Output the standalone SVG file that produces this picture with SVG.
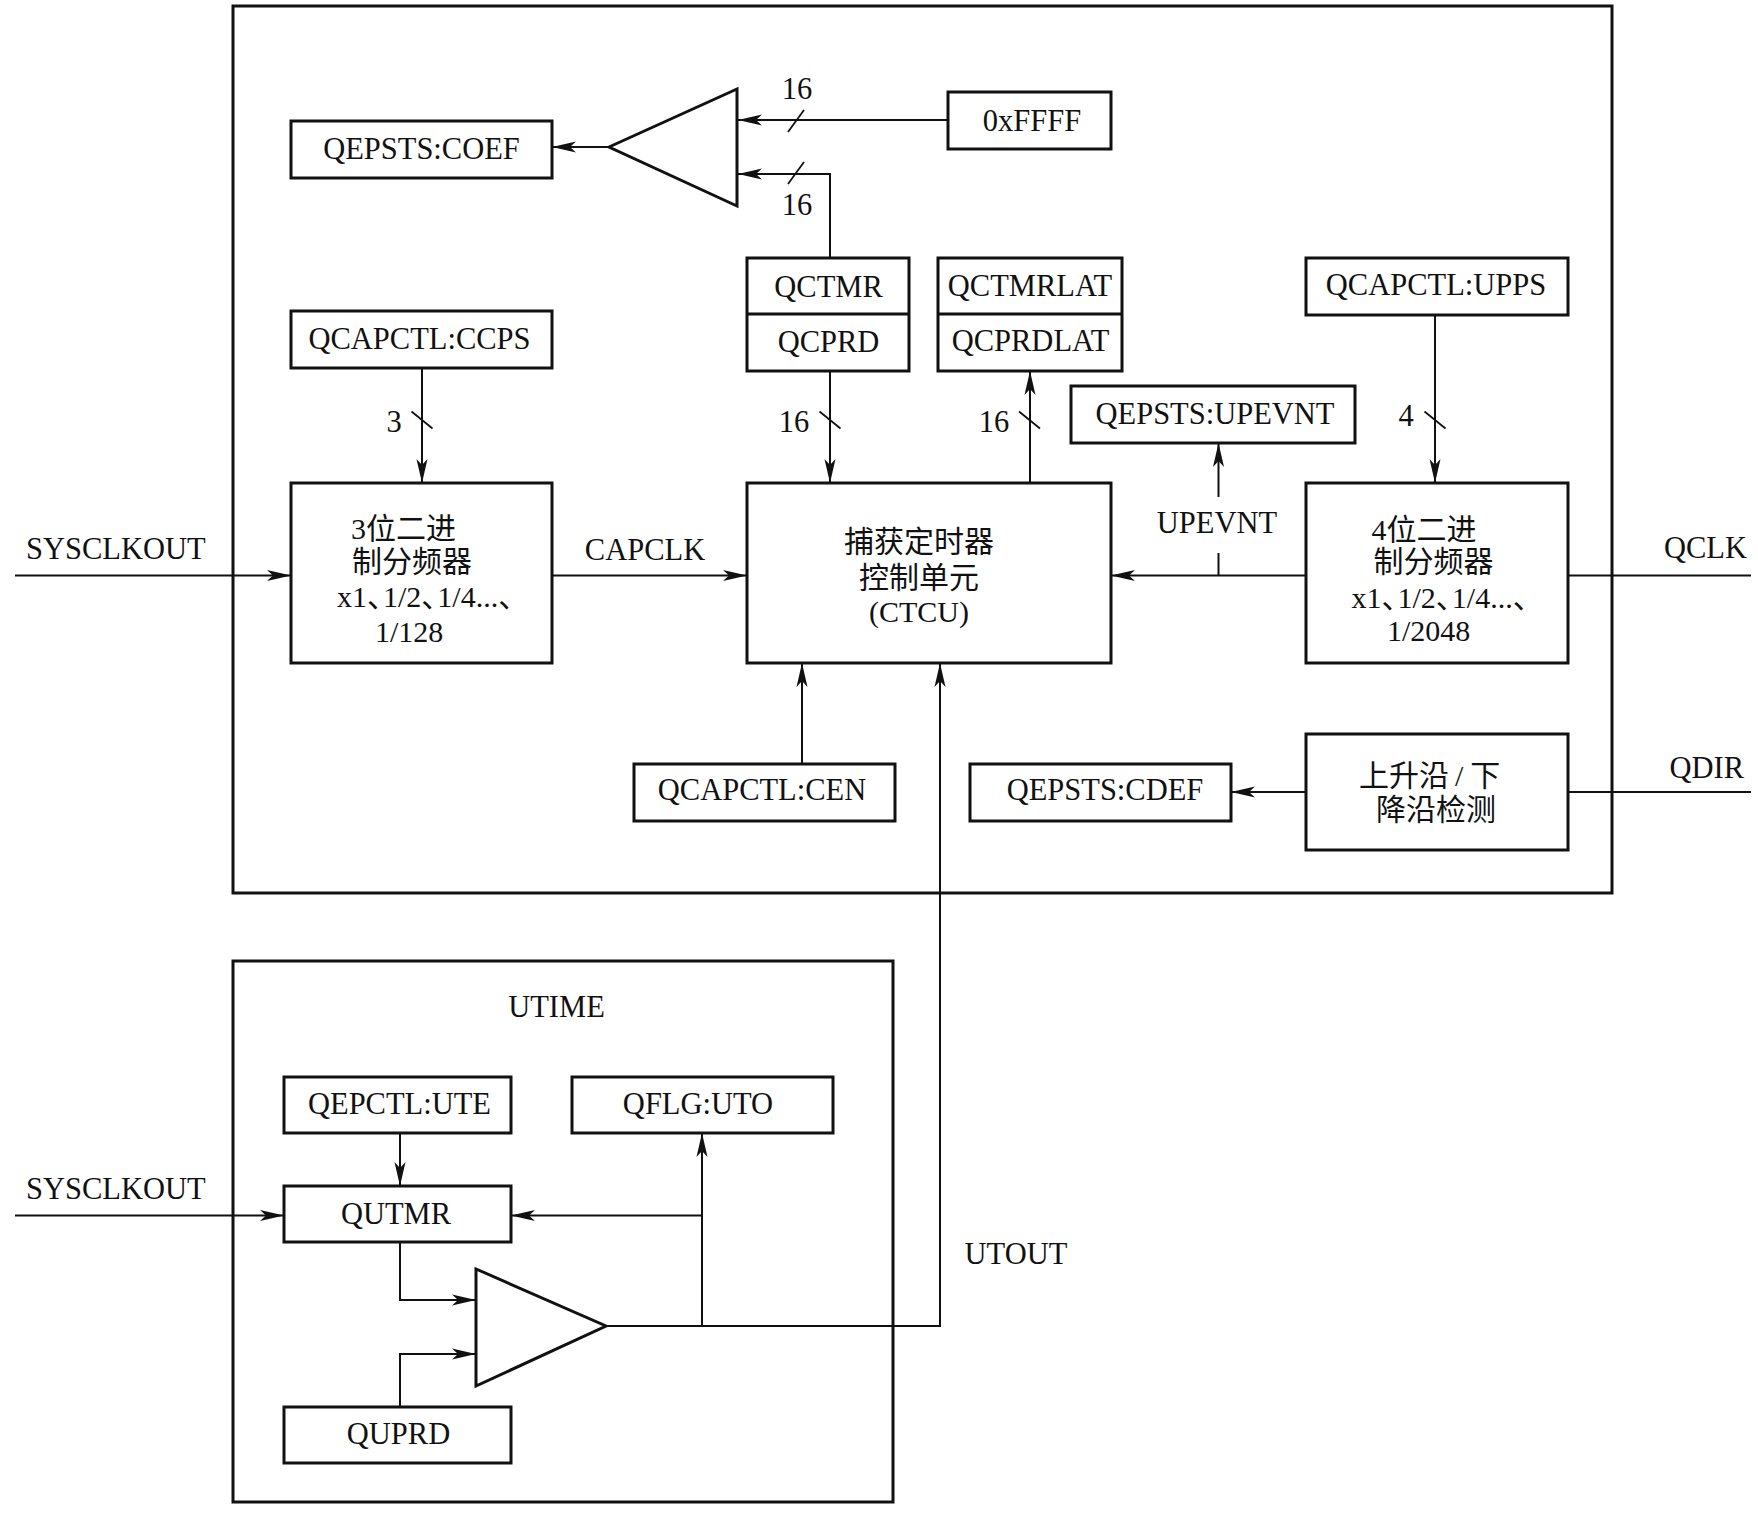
<svg xmlns="http://www.w3.org/2000/svg" width="1758" height="1515" viewBox="0 0 1758 1515">
<style>
  .bg{fill:#fff}
  .box{fill:#fff;stroke:#111;stroke-width:3}
  .frame{fill:none;stroke:#111;stroke-width:3}
  .ln{fill:none;stroke:#111;stroke-width:2}
  .sl{fill:none;stroke:#111;stroke-width:1.8}
  text{font-family:"Liberation Serif","Noto Sans CJK SC",serif;font-size:30.5px;fill:#111}
  .cjk{font-size:30px}
  .m{text-anchor:middle}
  .e{text-anchor:end}
</style>
<defs>
  <marker id="ah" markerUnits="userSpaceOnUse" markerWidth="26" markerHeight="14" refX="24" refY="7" orient="auto">
    <path d="M0,1.5 L24,7 L0,12.5 L6,7 z" fill="#111"/>
  </marker>
</defs>
<rect class="bg" x="0" y="0" width="1758" height="1515"/>

<g id="frame-qcap"><rect class="frame" x="233" y="6" width="1379" height="887"/></g>
<g id="frame-utime"><rect class="frame" x="233" y="961" width="660" height="541"/><text class="m" x="556.5" y="1016.5">UTIME</text></g>

<g id="connectors">
  <path class="ln" d="M609,147 H552" marker-end="url(#ah)"/>
  <path class="ln" d="M948,120 H738" marker-end="url(#ah)"/>
  <path class="ln" d="M830,258 V174 H738" marker-end="url(#ah)"/>
  <path class="ln" d="M422,368 V483" marker-end="url(#ah)"/>
  <path class="ln" d="M830,371 V483" marker-end="url(#ah)"/>
  <path class="ln" d="M1030,483 V371" marker-end="url(#ah)"/>
  <path class="ln" d="M1435,315 V483" marker-end="url(#ah)"/>
  <path class="ln" d="M15,575.5 H291" marker-end="url(#ah)"/>
  <path class="ln" d="M552,575.5 H747" marker-end="url(#ah)"/>
  <path class="ln" d="M1306,575.5 H1111" marker-end="url(#ah)"/>
  <path class="ln" d="M1218.5,575.5 V553"/>
  <path class="ln" d="M1218.5,497 V443" marker-end="url(#ah)"/>
  <path class="ln" d="M1568,575.5 H1751"/>
  <path class="ln" d="M802,764 V663" marker-end="url(#ah)"/>
  <path class="ln" d="M1306,792 H1231" marker-end="url(#ah)"/>
  <path class="ln" d="M1568,792 H1751"/>
  <path class="ln" d="M15,1215.5 H284" marker-end="url(#ah)"/>
  <path class="ln" d="M400,1133 V1186" marker-end="url(#ah)"/>
  <path class="ln" d="M400,1242 V1300 H476" marker-end="url(#ah)"/>
  <path class="ln" d="M400,1407 V1354 H476" marker-end="url(#ah)"/>
  <path class="ln" d="M606,1326 H940 V663" marker-end="url(#ah)"/>
  <path class="ln" d="M702,1326 V1133" marker-end="url(#ah)"/>
  <path class="ln" d="M702,1215.5 H511" marker-end="url(#ah)"/>
  <path class="sl" d="M788,132 L804,110"/>
  <path class="sl" d="M788,184 L804,162"/>
  <path class="sl" d="M411.5,411.5 L432.5,428.5"/>
  <path class="sl" d="M819.5,411.5 L840.5,428.5"/>
  <path class="sl" d="M1019,411.5 L1040,428.5"/>
  <path class="sl" d="M1424.5,411.5 L1445.5,428.5"/>
  <text class="m" x="797" y="98.5">16</text>
  <text class="m" x="797" y="215">16</text>
  <text class="m" x="394" y="431.5">3</text>
  <text class="m" x="794" y="432">16</text>
  <text class="m" x="994" y="431.5">16</text>
  <text class="m" x="1406" y="425.5">4</text>
  <text class="m" x="645" y="559.5">CAPCLK</text>
  <text class="m" x="1217" y="532.5">UPEVNT</text>
  <text class="e" x="1747" y="557.5">QCLK</text>
  <text class="e" x="1744" y="777.5">QDIR</text>
  <text x="26" y="558.5">SYSCLKOUT</text>
  <text x="26" y="1198.5">SYSCLKOUT</text>
  <text class="m" x="1016" y="1263.5">UTOUT</text>
</g>

<g id="coef"><rect class="box" x="291" y="121" width="261" height="57"/><text class="m" x="421.5" y="158.5">QEPSTS:COEF</text></g>
<g id="mux"><polygon class="box" points="609,147 737,89 737,206"/></g>
<g id="ffff"><rect class="box" x="948" y="92" width="163" height="57"/><text class="m" x="1032" y="130.5">0xFFFF</text></g>
<g id="qctmr"><rect class="box" x="747" y="258" width="162" height="113"/><path class="frame" d="M747,314 H909"/><text class="m" x="828.5" y="296.5">QCTMR</text><text class="m" x="828.5" y="352">QCPRD</text></g>
<g id="qctmrlat"><rect class="box" x="938" y="258" width="184" height="113"/><path class="frame" d="M938,314 H1122"/><text class="m" x="1030" y="295.5">QCTMRLAT</text><text class="m" x="1030.5" y="350.5">QCPRDLAT</text></g>
<g id="upps"><rect class="box" x="1306" y="258" width="262" height="57"/><text class="m" x="1436" y="295">QCAPCTL:UPPS</text></g>
<g id="ccps"><rect class="box" x="291" y="311" width="261" height="57"/><text class="m" x="419.5" y="348.5">QCAPCTL:CCPS</text></g>
<g id="upevnt"><rect class="box" x="1071" y="386" width="284" height="57"/><text class="m" x="1215" y="423.5">QEPSTS:UPEVNT</text></g>
<g id="div3"><rect class="box" x="291" y="483" width="261" height="180"/>
  <text class="cjk" x="351" y="539">3位二进</text>
  <text class="cjk" x="352" y="572">制分频器</text>
  <text class="cjk" x="337" y="607">x1、<tspan dx="-14">1/2、</tspan><tspan dx="-14">1/4...、</tspan></text>
  <text class="cjk" x="375" y="641.5">1/128</text>
</g>
<g id="ctcu"><rect class="box" x="747" y="483" width="364" height="180"/>
  <text class="cjk m" x="919" y="551.5">捕获定时器</text>
  <text class="cjk m" x="919" y="587.5">控制单元</text>
  <text class="cjk m" x="919" y="621.5">(CTCU)</text>
</g>
<g id="div4"><rect class="box" x="1306" y="483" width="262" height="180"/>
  <text class="cjk" x="1371.5" y="539.5">4位二进</text>
  <text class="cjk" x="1373.5" y="572">制分频器</text>
  <text class="cjk" x="1351.5" y="608">x1、<tspan dx="-14">1/2、</tspan><tspan dx="-14">1/4...、</tspan></text>
  <text class="cjk" x="1387" y="641">1/2048</text>
</g>
<g id="edge"><rect class="box" x="1306" y="734" width="262" height="116"/>
  <text class="cjk" x="1359" y="786">上升沿<tspan dx="6">/</tspan><tspan dx="7">下</tspan></text>
  <text class="cjk" x="1376" y="820">降沿检测</text>
</g>
<g id="cdef"><rect class="box" x="970" y="764" width="261" height="57"/><text class="m" x="1105" y="800">QEPSTS:CDEF</text></g>
<g id="cen"><rect class="box" x="634" y="764" width="261" height="57"/><text class="m" x="762" y="800">QCAPCTL:CEN</text></g>
<g id="ute"><rect class="box" x="284" y="1077" width="227" height="56"/><text class="m" x="399.5" y="1114">QEPCTL:UTE</text></g>
<g id="uto"><rect class="box" x="572" y="1077" width="261" height="56"/><text class="m" x="698" y="1114">QFLG:UTO</text></g>
<g id="qutmr"><rect class="box" x="284" y="1186" width="227" height="56"/><text class="m" x="396" y="1223.5">QUTMR</text></g>
<g id="quprd"><rect class="box" x="284" y="1407" width="227" height="56"/><text class="m" x="398.5" y="1443.5">QUPRD</text></g>
<g id="comparator"><polygon class="box" points="476,1269 476,1386 606,1326"/></g>
</svg>
